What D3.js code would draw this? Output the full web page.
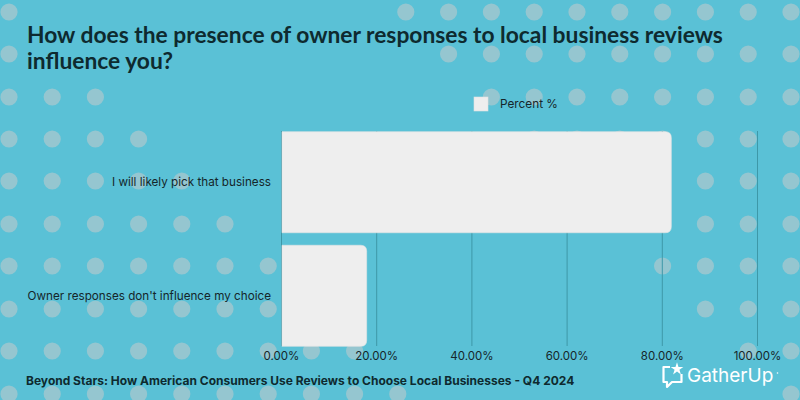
<!DOCTYPE html>
<html>
<head>
<meta charset="utf-8">
<script src="https://cdn.jsdelivr.net/npm/d3@7/dist/d3.min.js"></script>
<style>
  html, body { margin: 0; padding: 0; background: #5ac1d6; }
  svg { display: block; }
</style>
</head>
<body>
<div id="chart"></div>
<script>
// data
const categories = ["I will likely pick that business", "Owner responses don't influence my choice"];
const percentValues = [82, 18];
const tickValues = [0, 20, 40, 60, 80, 100];
const seriesName = "Percent %";
const titleLines = ["How does the presence of owner responses to local business reviews", "influence you?"];
const footnote = "Beyond Stars: How American Consumers Use Reviews to Choose Local Businesses - Q4 2024";

const width = 800, height = 400;
const bg = "#5ac1d6";
const barColor = "#eeeeee";
const ink = "#15262a";

const svg = d3.select("#chart").append("svg")
  .attr("width", width)
  .attr("height", height);

svg.append("rect").attr("width", width).attr("height", height).attr("fill", bg);

// decorative dot pattern (two patches of a grid)
const leftCols = d3.range(10).map(i => 9 + i * 43.2);
const rightCols = d3.range(10).map(j => 791 - (9 - j) * 42.8);
const dotRows = [12, 54, 97, 139, 181, 224, 266, 309, 351, 394];
// [how many left columns, first right column index] per row
const dotMask = [[1, 0], [1, 1], [3, 2], [4, 3], [5, 7], [6, 7], [7, 6], [7, 7], [9, 8], [10, 9]];
const dots = [];
dotRows.forEach((y, r) => {
  leftCols.slice(0, dotMask[r][0]).forEach(x => dots.push([x, y]));
  rightCols.slice(dotMask[r][1]).forEach(x => dots.push([x, y]));
});
svg.append("g").selectAll("circle")
  .data(dots)
  .enter().append("circle")
  .attr("cx", d => d[0])
  .attr("cy", d => d[1])
  .attr("r", 8.6)
  .attr("fill", "#95c6d0");

// title
svg.append("g").selectAll("text")
  .data(titleLines)
  .enter().append("text")
  .attr("x", 27)
  .attr("y", (d, i) => 43 + i * 26)
  .attr("font-family", "Lato, sans-serif")
  .attr("font-weight", 700)
  .attr("font-size", 22.8)
  .attr("fill", "#0e2a2f")
  .text(d => d);

// scales
const x = d3.scaleLinear().domain([0, 100]).range([281, 757]);
const y = d3.scaleBand().domain(categories).range([126, 352]).paddingInner(0.11).paddingOuter(0.05);

// gridlines
svg.append("g").selectAll("line")
  .data(tickValues)
  .enter().append("line")
  .attr("x1", d => x(d) + 0.5)
  .attr("x2", d => x(d) + 0.5)
  .attr("y1", y.range()[0] + 5)
  .attr("y2", y.range()[1] - 6)
  .attr("stroke", "#3e98a8")
  .attr("stroke-width", 1);

// bars, rounded on the right end only
function barPath(x0, x1, y0, h, r) {
  r = Math.min(r, (x1 - x0), h / 2);
  return `M${x0},${y0}H${x1 - r}Q${x1},${y0} ${x1},${y0 + r}V${y0 + h - r}Q${x1},${y0 + h} ${x1 - r},${y0 + h}H${x0}Z`;
}
svg.append("g").selectAll("path")
  .data(percentValues)
  .enter().append("path")
  .attr("d", (d, i) => barPath(x(0) + 1, x(d), y(categories[i]), y.bandwidth(), 6))
  .attr("fill", barColor)
  .attr("stroke", "#e4e4e4")
  .attr("stroke-width", 0.6);

// category labels
svg.append("g").selectAll("text")
  .data(categories)
  .enter().append("text")
  .attr("x", 271)
  .attr("y", d => y(d) + y.bandwidth() / 2)
  .attr("dy", "0.35em")
  .attr("text-anchor", "end")
  .attr("font-family", "Inter, sans-serif")
  .attr("font-size", 11.7)
  .attr("fill", ink)
  .text(d => d);

// x axis tick labels
const xAxis = d3.axisBottom(x).tickValues(tickValues).tickSize(0).tickPadding(0)
  .tickFormat(d => d3.format(".2f")(d) + "%");
const ax = svg.append("g").attr("transform", "translate(0,352)").call(xAxis);
ax.select(".domain").remove();
ax.selectAll("text")
  .attr("font-family", "Inter, sans-serif")
  .attr("font-size", 11.5)
  .attr("fill", ink)
  .attr("dy", "0.71em");

// legend
const lg = svg.append("g").attr("transform", "translate(474,97)");
lg.append("rect").attr("width", 14).attr("height", 14).attr("fill", barColor)
  .attr("stroke", "#e0e0e0").attr("stroke-width", 0.6);
lg.append("text").attr("x", 26).attr("y", 7).attr("dy", "0.35em")
  .attr("font-family", "Inter, sans-serif").attr("font-size", 11.8).attr("fill", ink)
  .text(seriesName);

// footnote
svg.append("text")
  .attr("x", 26).attr("y", 385)
  .attr("font-family", "Inter, sans-serif")
  .attr("font-weight", 700)
  .attr("font-size", 12)
  .attr("fill", "#0e2a2f")
  .text(footnote);

// GatherUp logo
const logo = svg.append("g").attr("transform", "translate(662,364)");
logo.append("path")
  .attr("d", "M8,3H1.5V18H5V23L10,18H19.5V10")
  .attr("fill", "none").attr("stroke", "#ffffff").attr("stroke-width", 2.2)
  .attr("stroke-linejoin", "round");
const star = d3.symbol().type(d3.symbolStar).size(50);
logo.append("path").attr("d", star()).attr("transform", "translate(15,5)").attr("fill", "#ffffff");
logo.append("text").attr("x", 25).attr("y", 18)
  .attr("font-family", "Inter, sans-serif").attr("font-size", 19).attr("fill", "#ffffff")
  .text("GatherUp");
logo.append("circle").attr("cx", 115.5).attr("cy", 9).attr("r", 0.8).attr("fill", "#ffffff");
</script>
</body>
</html>
